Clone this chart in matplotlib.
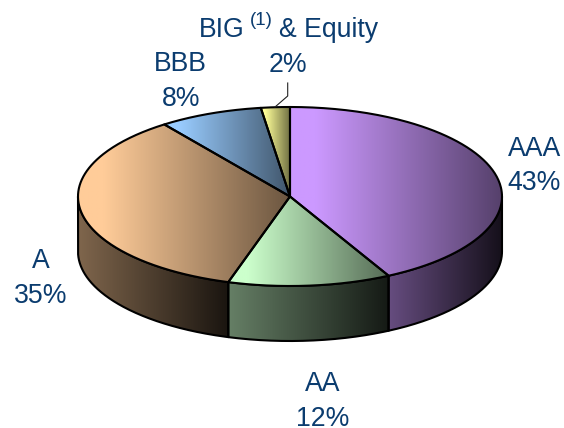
import numpy as np
import matplotlib
matplotlib.use("Agg")
import matplotlib.pyplot as plt
from matplotlib.path import Path
from matplotlib.patches import PathPatch
from matplotlib.colors import to_rgb

categories = ["AAA", "AA", "A", "BBB", "BIG & Equity"]
values = [42.3, 12.4, 35.2, 7.9, 2.2]      # slice sizes as drawn
shown = ["43%", "12%", "35%", "8%", "2%"]  # printed labels
colors = ["#CC99FF", "#CCFFCC", "#FFCC99", "#99CCFF", "#FFFF99"]

CX, CY, A, B, DEPTH = 290.0, 196.5, 212.0, 89.5, 55.0
TEXT = "#0B3C6F"
FS = 19.2

plt.rcParams["font.family"] = ["Liberation Sans", "DejaVu Sans"]
fig = plt.figure(figsize=(5.64, 4.28), dpi=100)
ax = fig.add_axes([0, 0, 1, 1])
ax.set_xlim(0, 564)
ax.set_ylim(428, 0)
ax.axis("off")


def rim(t0, t1, dy=0.0, n=200):
    t = np.radians(np.linspace(t0, t1, n))
    return np.column_stack([CX + A * np.sin(t), CY - B * np.cos(t) + dy])


def fill(pts, color, s0, s1, hold, z):
    """Closed polygon with a horizontal gradient, scale s0 to s1 of the colour."""
    x0, x1 = pts[:, 0].min(), pts[:, 0].max()
    u = np.linspace(0, 1, 256)
    k = s0 + (s1 - s0) * np.clip((u - hold) / (1 - hold), 0, 1)
    img = (np.array(to_rgb(color))[None, None, :] * k[None, :, None])
    im = ax.imshow(img, extent=[x0, x1, pts[:, 1].max(), pts[:, 1].min()],
                   aspect="auto", interpolation="bilinear", zorder=z)
    closed = np.vstack([pts, pts[:1]])
    path = Path(closed)
    edge = PathPatch(path, fc="none", ec="black", lw=1.5, joinstyle="round", zorder=z + 0.5)
    ax.add_patch(edge)
    im.set_clip_path(edge)


edges = np.concatenate([[0], np.cumsum(values)]) / np.sum(values) * 360

# side walls: only the part of each slice on the front half of the pie
for i, c in enumerate(colors):
    t0, t1 = max(edges[i], 90), min(edges[i + 1], 270)
    if t1 <= t0:
        continue
    top = rim(t0, t1)
    bot = rim(t0, t1, DEPTH)[::-1]
    fill(np.vstack([top, bot]), c, 0.50, 0.10, 0.0, 2)

# top faces
for i, c in enumerate(colors):
    pts = np.vstack([[[CX, CY]], rim(edges[i], edges[i + 1])])
    fill(pts, c, 1.0, 0.42, 0.12, 3)

ax.set_xlim(0, 564)
ax.set_ylim(428, 0)

# labels
kw = dict(color=TEXT, fontsize=FS, ha="center", va="center")
ax.text(535, 149, categories[0], **kw)
ax.text(534, 183, shown[0], **kw)
ax.text(323, 384, categories[1], **kw)
ax.text(323, 418.5, shown[1], **kw)
ax.text(41, 261, categories[2], **kw)
ax.text(41, 296, shown[2], **kw)
ax.text(180, 64, categories[3], **kw)
ax.text(181, 99, shown[3], **kw)
ax.text(288, 65, shown[4], **kw)
ax.text(199, 30, "BIG", color=TEXT, fontsize=FS, ha="left", va="center")
ax.text(250, 20, "(1)", color=TEXT, fontsize=13.5, ha="left", va="center")
ax.text(279, 30, "& Equity", color=TEXT, fontsize=FS, ha="left", va="center")

# leader line
ax.plot([287.7, 287.7, 275], [83, 96, 107], color="#222222", lw=0.8, zorder=5)

fig.savefig("out.png", dpi=100, facecolor="white")
